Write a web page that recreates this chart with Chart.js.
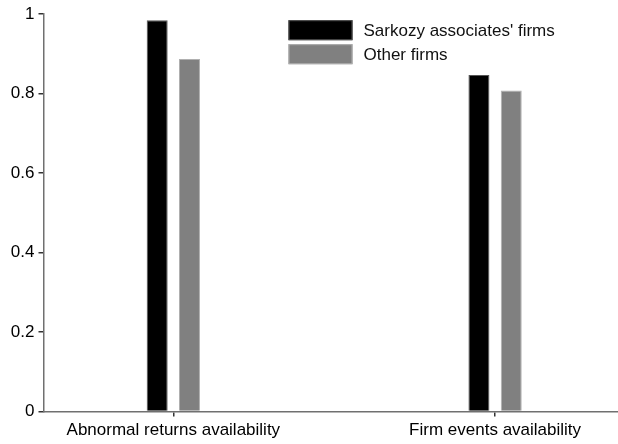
<!DOCTYPE html>
<html>
<head>
<meta charset="utf-8">
<script src="https://cdn.jsdelivr.net/npm/chart.js@4.4.1/dist/chart.umd.min.js"></script>
<style>
  html, body { margin: 0; padding: 0; background: #ffffff; }
  #wrap { width: 618px; height: 444px; }
</style>
</head>
<body>
<div id="wrap"><canvas id="chart" width="618" height="444"></canvas></div>
<script>
// Share of firms with data available, by group
const categories = ['Abnormal returns availability', 'Firm events availability'];
const seriesNames = ["Sarkozy associates' firms", 'Other firms'];
const sarkozyFirms = [0.985, 0.847];
const otherFirms = [0.887, 0.808];
const yTicks = [0, 0.2, 0.4, 0.6, 0.8, 1];

// categories sit at x = 1, 2 on a linear axis
const catPos = categories.map((_, i) => i + 1);
const toPoints = vals => vals.map((v, i) => ({ x: catPos[i], y: v }));

const FONT = "'Liberation Sans', Arial, sans-serif";

// Legend drawn as a stacked column inside the plot area
const boxLegend = {
  id: 'boxLegend',
  afterDraw(chart) {
    const ctx = chart.ctx;
    const area = chart.chartArea;
    const x0 = area.left + 245;
    let y0 = area.top + 6;
    const bw = 64, bh = 20, gap = 4;
    ctx.save();
    ctx.font = '17px ' + FONT;
    ctx.textBaseline = 'middle';
    ctx.textAlign = 'left';
    chart.data.datasets.forEach(ds => {
      ctx.fillStyle = ds.backgroundColor;
      ctx.fillRect(x0, y0, bw, bh);
      ctx.lineWidth = 1;
      ctx.strokeStyle = ds.borderColor;
      ctx.strokeRect(x0 + 0.5, y0 + 0.5, bw - 1, bh - 1);
      ctx.fillStyle = '#111111';
      ctx.fillText(ds.label, x0 + bw + 11, y0 + bh / 2 + 1);
      y0 += bh + gap;
    });
    ctx.restore();
  }
};

const axisGrid = {
  display: true,
  offset: false,
  drawOnChartArea: false,
  drawTicks: true,
  tickLength: 5,
  tickColor: '#333333',
  tickWidth: 1.5,
  lineWidth: 1.5
};

new Chart(document.getElementById('chart'), {
  type: 'bar',
  data: {
    datasets: [
      {
        label: seriesNames[0],
        data: toPoints(sarkozyFirms),
        backgroundColor: '#000000',
        borderColor: '#555555',
        borderWidth: 1,
        barPercentage: 0.65,
        categoryPercentage: 0.2008
      },
      {
        label: seriesNames[1],
        data: toPoints(otherFirms),
        backgroundColor: '#808080',
        borderColor: '#b0b0b0',
        borderWidth: 1,
        barPercentage: 0.65,
        categoryPercentage: 0.2008
      }
    ]
  },
  options: {
    responsive: false,
    animation: false,
    devicePixelRatio: 1,
    layout: { padding: { top: 11.5, right: 0, left: 0, bottom: 0 } },
    plugins: {
      legend: { display: false },
      tooltip: { enabled: false }
    },
    scales: {
      x: {
        type: 'linear',
        offset: false,
        min: 0.5965,
        max: 2.382,
        afterBuildTicks(scale) {
          scale.ticks = catPos.map(v => ({ value: v }));
        },
        afterFit(scale) { scale.height = 32.5; },
        ticks: {
          autoSkip: false,
          maxRotation: 0,
          padding: 4,
          color: '#000000',
          font: { family: FONT, size: 17 },
          callback: v => categories[Math.round(v) - 1] || ''
        },
        grid: axisGrid,
        border: { display: true, color: '#707070', width: 1.5 }
      },
      y: {
        min: 0,
        max: 1,
        afterBuildTicks(scale) {
          scale.ticks = yTicks.map(v => ({ value: v }));
        },
        afterFit(scale) { scale.width = 43.5; },
        ticks: {
          padding: 4,
          color: '#000000',
          font: { family: FONT, size: 17 },
          callback: v => String(+v.toFixed(1))
        },
        grid: axisGrid,
        border: { display: true, color: '#707070', width: 1.5 }
      }
    }
  },
  plugins: [boxLegend]
});
</script>
</body>
</html>
